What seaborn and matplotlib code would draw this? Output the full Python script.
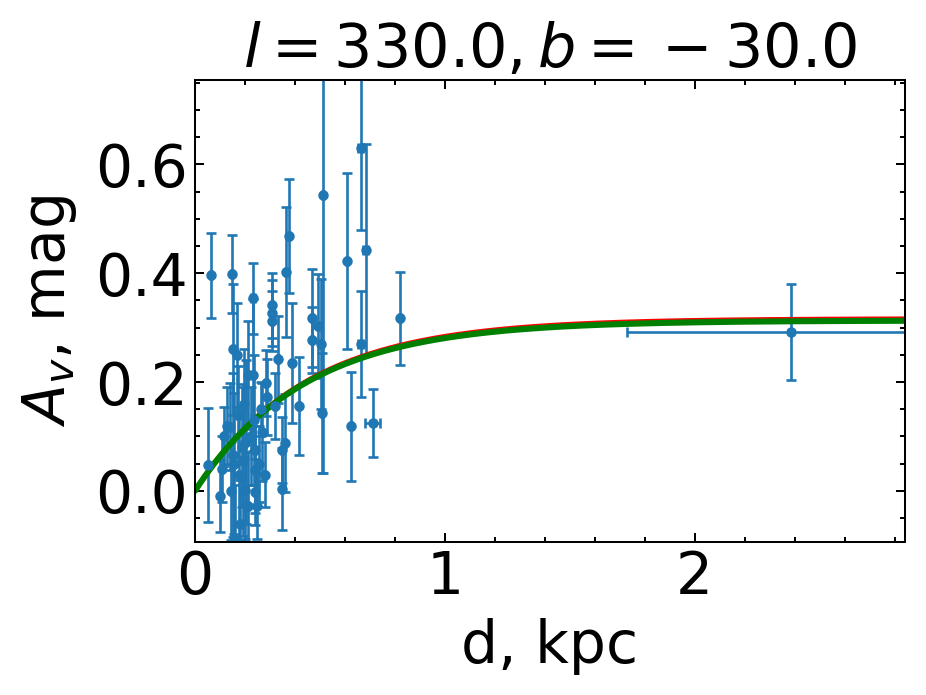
import numpy as np
import pandas as pd
import seaborn as sns
import matplotlib
matplotlib.use('Agg')
import matplotlib.pyplot as plt
from matplotlib.ticker import MultipleLocator

# distances (kpc), extinction (mag) and their errors
dist = [0.064, 0.052, 0.100, 0.108, 0.116, 0.140, 0.148, 0.152, 0.152, 0.156,
        0.170, 0.160, 0.188, 0.192, 0.200, 0.212, 0.212, 0.232, 0.232, 0.240,
        0.240, 0.240, 0.248, 0.268, 0.284, 0.290, 0.280, 0.308, 0.308, 0.308,
        0.320, 0.332, 0.348, 0.348, 0.360, 0.364, 0.376, 0.388, 0.416, 0.468,
        0.468, 0.492, 0.504, 0.508, 0.512, 0.608, 0.624, 0.664, 0.664, 0.684,
        0.712, 0.820, 2.384, 0.128, 0.172, 0.180, 0.196, 0.224, 0.236, 0.256,
        0.176, 0.144, 0.204, 0.264]
av = [0.396, 0.047, -0.010, 0.040, 0.100, 0.118, 0.398, 0.260, 0.066, 0.050,
      0.250, -0.090, 0.081, 0.057, 0.002, -0.028, 0.213, 0.213, 0.354, 0.075,
      0.039, -0.002, -0.028, 0.108, 0.198, 0.172, 0.030, 0.341, 0.327, 0.312,
      0.156, 0.242, 0.075, 0.004, 0.088, 0.402, 0.468, 0.235, 0.156, 0.317,
      0.277, 0.303, 0.270, 0.143, 0.543, 0.422, 0.119, 0.630, 0.270, 0.442,
      0.125, 0.317, 0.292, 0.120, 0.140, -0.060, 0.160, 0.100, 0.130, 0.050,
      0.030, 0.000, 0.090, 0.150]
av_err = [0.078, 0.105, 0.066, 0.060, 0.055, 0.080, 0.072, 0.120, 0.150, 0.130,
          0.095, 0.100, 0.110, 0.140, 0.090, 0.100, 0.100, 0.140, 0.065, 0.065,
          0.080, 0.060, 0.060, 0.090, 0.060, 0.070, 0.060, 0.060, 0.060, 0.055,
          0.060, 0.080, 0.060, 0.075, 0.090, 0.120, 0.105, 0.110, 0.090, 0.090,
          0.060, 0.095, 0.120, 0.110, 0.510, 0.162, 0.100, 0.150, 0.098, 0.195,
          0.062, 0.086, 0.089, 0.070, 0.090, 0.080, 0.100, 0.090, 0.120, 0.070,
          0.120, 0.090, 0.150, 0.050]
dist_err = [0.003] * len(dist)
dist_err[18] = 0.008
dist_err[47] = 0.010
dist_err[48] = 0.010
dist_err[49] = 0.010
dist_err[50] = 0.030
dist_err[52] = 0.656

# fitted model A(d) = a0 * (1 - exp(-d / h)), two fits
fit_red = (0.317, 0.44)
fit_green = (0.313, 0.44)

sns.set_theme(style="ticks")
plt.rcParams['font.family'] = ['DejaVu Sans']
plt.rcParams['mathtext.fontset'] = 'dejavusans'
for key in ['text.color', 'axes.labelcolor', 'xtick.color', 'ytick.color', 'axes.edgecolor']:
    plt.rcParams[key] = 'black'

fig = plt.figure(figsize=(926 / 145, 695 / 145), dpi=145)
ax = fig.add_axes([0.2106, 0.2201, 0.7664, 0.6648])

ax.errorbar(dist, av, yerr=av_err, xerr=dist_err, fmt='o', color='#1f77b4',
            markersize=4.2, elinewidth=1.3, capsize=2.5, capthick=1.3)

d_grid = np.linspace(0, 2.85, 300)
for (a0, h), col, lw in [(fit_red, 'red', 2.2), (fit_green, 'green', 3.0)]:
    curve = pd.DataFrame({"d": d_grid, "A": a0 * (1 - np.exp(-d_grid / h))})
    sns.lineplot(data=curve, x="d", y="A", color=col, linewidth=lw, ax=ax)

ax.set_xlim(0, 2.84)
ax.set_ylim(-0.094, 0.755)
ax.xaxis.set_major_locator(MultipleLocator(1))
ax.xaxis.set_minor_locator(MultipleLocator(0.2))
ax.yaxis.set_major_locator(MultipleLocator(0.2))
ax.yaxis.set_minor_locator(MultipleLocator(0.05))
ax.tick_params(which='both', direction='in', top=True, right=True,
               labelsize=29, color='black', width=1)
ax.tick_params(which='major', length=4.5)
ax.tick_params(which='minor', length=2.5)
for s in ax.spines.values():
    s.set_color('black')
    s.set_linewidth(1)

ax.set_xlabel("d, kpc", fontsize=29, labelpad=6)
ax.set_ylabel("$A_v$, mag", fontsize=29, labelpad=8)
ax.set_title("$l=330.0, b={}-30.0$", fontsize=30)

fig.savefig("out.png", dpi=145)
